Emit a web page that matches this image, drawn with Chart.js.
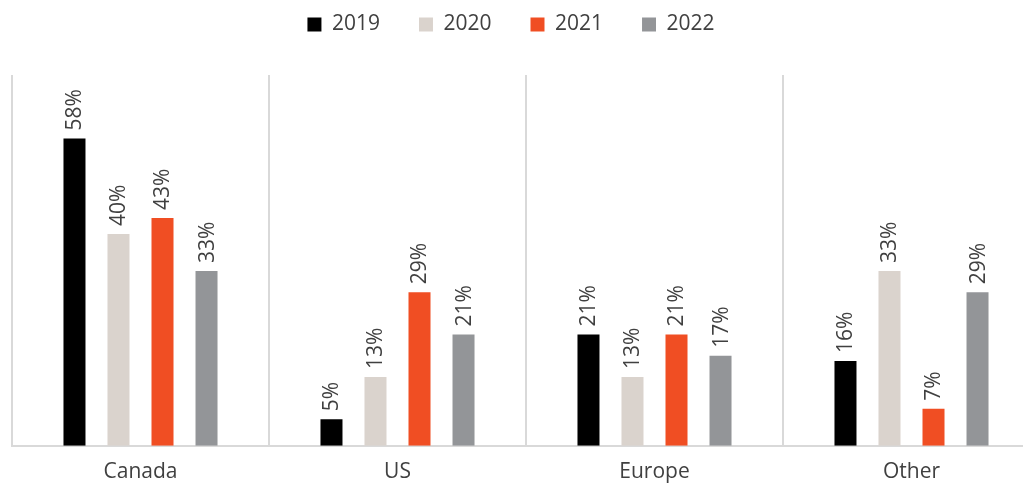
<!DOCTYPE html>
<html>
<head>
<meta charset="utf-8">
<script src="https://cdn.jsdelivr.net/npm/chart.js@4.4.1/dist/chart.umd.min.js"></script>
<style>
  html, body { margin: 0; padding: 0; background: #fff; overflow: hidden; }
  #wrap { width: 1052px; height: 483px; }
</style>
</head>
<body>
<div id="wrap"><canvas id="grafico" width="1052" height="483"></canvas></div>
<script>
// categorias y valores por año (porcentaje)
var regiones = ['Canada', 'US', 'Europe', 'Other'];
var anios = ['2019', '2020', '2021', '2022'];
var v2019 = [58, 5, 21, 16];
var v2020 = [40, 13, 13, 33];
var v2021 = [43, 29, 21, 7];
var v2022 = [33, 21, 17, 29];
var colores = ['#000000', '#dad3cd', '#f04e23', '#939598'];

var textoGris = '#404040';
var fuente = "'Open Sans', sans-serif";

// etiquetas verticales encima de cada barra
var etiquetasBarras = {
  id: 'etiquetasBarras',
  afterDatasetsDraw: function (chart) {
    var ctx = chart.ctx;
    ctx.save();
    ctx.fillStyle = textoGris;
    ctx.font = '21px ' + fuente;
    ctx.textAlign = 'left';
    ctx.textBaseline = 'middle';
    chart.data.datasets.forEach(function (ds, i) {
      var meta = chart.getDatasetMeta(i);
      meta.data.forEach(function (bar, j) {
        ctx.save();
        ctx.translate(bar.x + 1, bar.y - 8);
        ctx.rotate(-Math.PI / 2);
        ctx.fillText(ds.data[j] + '%', 0, 0);
        ctx.restore();
      });
    });
    ctx.restore();
  }
};

// mas espacio bajo la leyenda y leyenda centrada en la parte visible
var ajusteLeyenda = {
  id: 'ajusteLeyenda',
  beforeInit: function (chart) {
    var fitOriginal = chart.legend.fit;
    chart.legend.fit = function () {
      fitOriginal.bind(chart.legend)();
      this.height += 30;
    };
  },
  afterLayout: function (chart) {
    chart.legend.right -= 30;
  }
};

var series = [v2019, v2020, v2021, v2022];
var ctx = document.getElementById('grafico').getContext('2d');
var miGrafico = new Chart(ctx, {
  type: 'bar',
  data: {
    labels: regiones,
    datasets: anios.map(function (a, i) {
      return {
        label: a,
        data: series[i],
        backgroundColor: colores[i],
        categoryPercentage: 0.685,
        barPercentage: 0.5
      };
    })
  },
  options: {
    responsive: false,
    animation: false,
    layout: { padding: { left: 12, right: 12, top: -25, bottom: -16 } },
    plugins: {
      legend: {
        display: true,
        position: 'top',
        labels: {
          boxWidth: 14,
          boxHeight: 14,
          padding: 39,
          color: textoGris,
          font: { size: 21, family: fuente }
        }
      },
      tooltip: { enabled: false }
    },
    scales: {
      x: {
        grid: { display: true, offset: true, color: '#d9d9d9', lineWidth: 2, drawTicks: false },
        border: { display: true, color: '#d9d9d9', width: 2 },
        ticks: { color: textoGris, font: { size: 21, family: fuente }, padding: 14 }
      },
      y: {
        display: false,
        min: 0,
        max: 70
      }
    }
  },
  plugins: [ajusteLeyenda, etiquetasBarras]
});
</script>
</body>
</html>
